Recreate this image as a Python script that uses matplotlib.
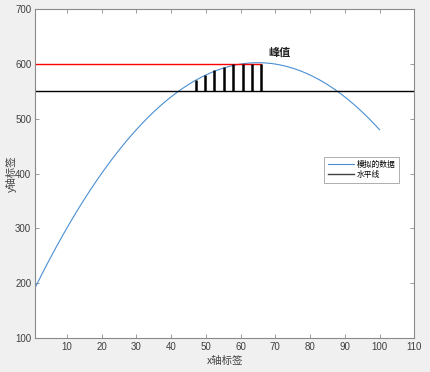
import numpy as np
import matplotlib
matplotlib.use('Agg')
import matplotlib.pyplot as plt

plt.rcParams['font.family'] = ['Liberation Sans', 'Noto Sans CJK SC', 'DejaVu Sans']

# data
x = [1, 3, 5, 7, 9, 11, 13, 15, 17, 19, 21, 23, 25, 27, 29, 31, 33, 35, 37, 39,
     41, 43, 45, 47, 49, 51, 53, 55, 57, 59, 61, 63, 65, 67, 69, 71, 73, 75, 77,
     79, 81, 83, 85, 87, 89, 91, 93, 95, 97, 99, 100]
y = [192.9, 218.1, 242.5, 266.1, 288.9, 310.9, 332.1, 352.5, 372.1, 390.9,
     408.9, 426.1, 442.5, 458.1, 472.9, 486.9, 500.1, 512.5, 524.1, 534.9,
     544.9, 554.1, 562.5, 570.1, 576.9, 582.9, 588.1, 592.5, 596.1, 598.9,
     600.9, 602.1, 602.5, 602.1, 600.9, 598.9, 596.1, 592.5, 588.1, 582.9,
     576.9, 570.1, 562.5, 554.1, 544.9, 534.9, 524.1, 512.5, 500.1, 486.9, 480]
level = 550
peak = 600
peak_end = 66
bar_x = [47.1, 49.8, 52.5, 55.2, 57.9, 60.6, 63.3, 66.0]
bar_top = [570.2, 580.5, 588.8, 595.3, 599.4, 600, 600, 600]
xticks = list(range(10, 111, 10))
yticks = list(range(100, 701, 100))

fig = plt.figure(figsize=(4.30, 3.72), dpi=100, facecolor='#f0f0f0')
ax = fig.add_axes([0.0825, 0.0920, 0.881, 0.8830])
ax.set_facecolor('white')

ax.plot(x, y, color='#4a8fd4', lw=0.8, label='模拟的数据')
ax.axhline(level, color='black', lw=1.0, label='水平线')
ax.plot([1, peak_end], [peak, peak], color='red', lw=1.0)
ax.vlines(bar_x, level, bar_top, color='black', lw=1.8)
ax.text(68.0, 621, '峰值', fontsize=8, fontweight='bold', va='center',
        family=['Noto Sans CJK SC'], color='#202020')

ax.set_xlim(1, 110)
ax.set_ylim(100, 700)
ax.set_xticks(xticks)
ax.set_yticks(yticks)
ax.tick_params(direction='in', length=3, width=0.6, colors='#8a8a8a',
               labelcolor='#404040', labelsize=7, top=True, right=True, pad=3)
for s in ax.spines.values():
    s.set_color('#8a8a8a')
    s.set_linewidth(0.8)

ax.set_xlabel('x轴标签', fontsize=7.5, color='#404040', labelpad=3,
              family=['Noto Sans CJK SC'])
ax.set_ylabel('y轴标签', fontsize=7.5, color='#404040', labelpad=-1,
              family=['Noto Sans CJK SC'])

leg = ax.legend(loc='upper left', bbox_to_anchor=(0.7618, 0.550),
                prop={'family': 'Noto Sans CJK SC', 'size': 5.6},
                frameon=True, fancybox=False, handlelength=3.4,
                borderpad=0.45, labelspacing=0.3, handletextpad=0.3,
                borderaxespad=0)
leg.get_frame().set_edgecolor('#8a8a8a')
leg.get_frame().set_linewidth(0.6)
leg.get_lines()[1].set_color('#404040')

fig.savefig('out.png', dpi=100, facecolor=fig.get_facecolor())
